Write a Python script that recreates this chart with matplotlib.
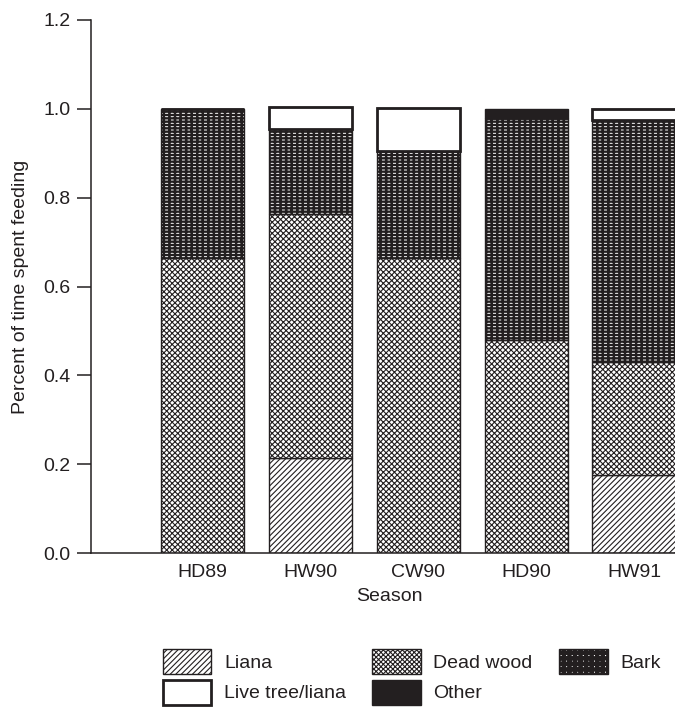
import numpy as np
import matplotlib.pyplot as plt
from matplotlib.patches import Patch

plt.rcParams['font.family'] = ['Liberation Sans', 'DejaVu Sans']
plt.rcParams['hatch.linewidth'] = 0.8

# data
seasons = ['HD89', 'HW90', 'CW90', 'HD90', 'HW91']
liana = [0.0, 0.215, 0.0, 0.0, 0.175]
dead_wood = [0.665, 0.548, 0.665, 0.48, 0.255]
bark = [0.335, 0.192, 0.24, 0.50, 0.545]
live_tree = [0.0, 0.05, 0.097, 0.0, 0.025]
other = [0.0, 0.0, 0.0, 0.02, 0.0]

ink = '#231f20'
fs = 14

fig = plt.figure(figsize=(6.75, 7.07), dpi=100)
ax = fig.add_axes([91/675, 154/707, 597/675, 533/707])

x = np.arange(len(seasons))
w = 0.77
bottom = np.zeros(len(seasons))

# liana: diagonal lines
ax.bar(x, liana, w, bottom=bottom, facecolor='white', edgecolor=ink, hatch='//////', linewidth=1.0)
bottom += liana
# dead wood: fine cross hatch
ax.bar(x, dead_wood, w, bottom=bottom, facecolor='white', edgecolor=ink, hatch='xxxxxx', linewidth=1.0)
bottom += dead_wood
# bark: black with small white dashes
with plt.rc_context({'hatch.linewidth': 1.7}):
    ax.bar(x, bark, w, bottom=bottom, facecolor='white', edgecolor=ink, hatch='-----|||', linewidth=1.0)
bottom += bark
# live tree/liana: plain white
ax.bar(x, live_tree, w, bottom=bottom, facecolor='white', edgecolor=ink, linewidth=2.0)
bottom += live_tree
# other: solid black
ax.bar(x, other, w, bottom=bottom, facecolor=ink, edgecolor=ink, linewidth=1.0)

ax.set_xlim(-1.03, 4.5)
ax.set_ylim(0, 1.2)
ax.set_xticks(x)
ax.set_xticklabels(seasons)
ax.set_yticks([0.0, 0.2, 0.4, 0.6, 0.8, 1.0, 1.2])
ax.set_yticklabels(['0.0', '0.2', '0.4', '0.6', '0.8', '1.0', '1.2'])
ax.tick_params(axis='x', length=0, pad=8, labelsize=fs, colors=ink)
ax.tick_params(axis='y', length=10, width=1.1, pad=5, labelsize=fs, colors=ink)
ax.spines['top'].set_visible(False)
ax.spines['right'].set_visible(False)
for s in ['left', 'bottom']:
    ax.spines[s].set_linewidth(1.1)
    ax.spines[s].set_color(ink)
ax.set_xlabel('Season', fontsize=fs, color=ink, labelpad=5)
ax.set_ylabel('Percent of time spent feeding', fontsize=fs, color=ink, labelpad=10)

# legend, filled column by column
handles = [
    Patch(facecolor='white', edgecolor=ink, hatch='//////', label='Liana'),
    Patch(facecolor='white', edgecolor=ink, linewidth=2.0, label='Live tree/liana'),
    Patch(facecolor='white', edgecolor=ink, hatch='xxxxxxx', label='Dead wood'),
    Patch(facecolor=ink, edgecolor=ink, label='Other'),
    Patch(facecolor='white', edgecolor=ink, hatch='+++', label='Bark'),
]

leg = fig.legend(handles=handles, ncol=3, loc='upper left', bbox_to_anchor=(153/675, 1 - 639/707),
                 frameon=False, fontsize=fs, handlelength=2.5, handleheight=1.6,
                 handletextpad=0.65, columnspacing=1.35, labelspacing=0.3, borderpad=0,
                 labelcolor=ink)
# thicker checks on the bark key
bark_key = leg.legend_handles[4]
if hasattr(bark_key, 'set_hatch_linewidth'):
    bark_key.set_hatch_linewidth(3.2)

fig.savefig('out.png', dpi=100)
